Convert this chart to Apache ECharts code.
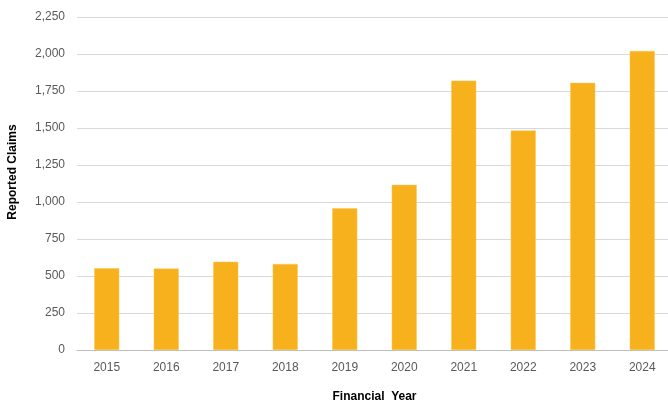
<!DOCTYPE html>
<html><head><meta charset="utf-8">
<script src="https://cdn.jsdelivr.net/npm/echarts@6/dist/echarts.min.js"></script>
<style>html,body{margin:0;padding:0;background:#fff}#c{width:668px;height:405px}</style>
</head><body><div id="c"></div>
<script>
const categories = ['2015','2016','2017','2018','2019','2020','2021','2022','2023','2024'];
const claims = [552, 550, 596, 581, 957, 1116, 1820, 1483, 1805, 2020];
const yMin = 0, yMax = 2250, yStep = 250;
const xTitle = 'Financial  Year';
const yTitle = 'Reported Claims';

const chart = echarts.init(document.getElementById('c'), null, {renderer:'canvas'});
const font = '"Liberation Sans", Arial, sans-serif';
chart.setOption({
  animation:false,
  grid:{left:77, width:595, top:17, height:333, containLabel:false, outerBoundsMode:'none'},
  graphic:[{
    type:'text', x:13, y:172, rotation:Math.PI/2,
    style:{text:yTitle, fill:'#000', font:'bold 12px ' + font, align:'center', verticalAlign:'middle'}
  }],
  xAxis:{
    type:'category', data:categories,
    axisLine:{lineStyle:{color:'#bfbfbf', width:1}},
    axisTick:{show:false},
    axisLabel:{color:'#595959', fontSize:12, fontFamily:font, margin:12},
    name:xTitle, nameLocation:'middle', nameGap:41,
    nameTextStyle:{color:'#000', fontWeight:'bold', fontSize:12, fontFamily:font}
  },
  yAxis:{
    type:'value', min:yMin, max:yMax, interval:yStep,
    axisLine:{show:false}, axisTick:{show:false},
    splitLine:{lineStyle:{color:'#d9d9d9', width:1}},
    axisLabel:{color:'#595959', fontSize:12, fontFamily:font, margin:12,
      formatter:v=>v.toLocaleString('en-US')}
  },
  series:[{
    type:'bar', data:claims, barWidth:25,
    itemStyle:{color:'#F7B11C', borderColor:'#FBC74F', borderWidth:0.5}
  }]
});
</script></body></html>
